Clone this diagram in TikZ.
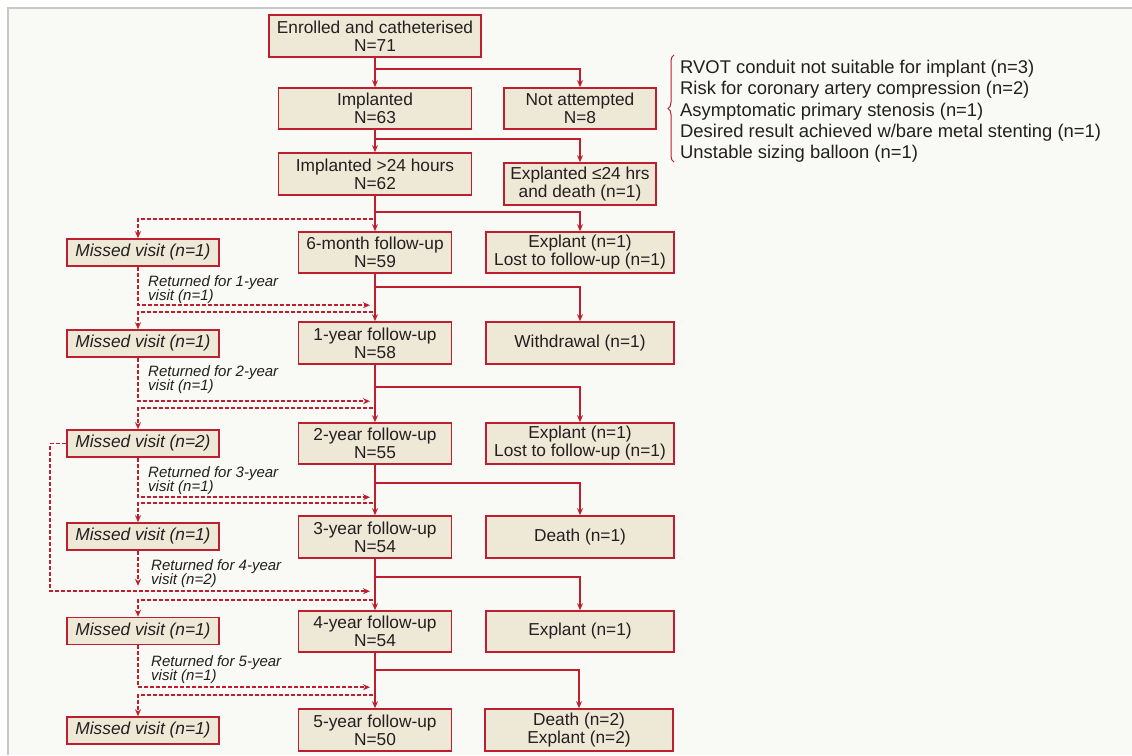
\documentclass[tikz,border=0pt]{standalone}
\usepackage{fontspec}
\setmainfont{Liberation Sans}
\usetikzlibrary{arrows.meta,decorations.pathreplacing,calc}
\definecolor{cred}{RGB}{190,30,45}
\definecolor{cbeige}{RGB}{237,233,214}
\definecolor{cbg}{RGB}{249,249,245}
\definecolor{cframe}{RGB}{200,200,200}
\definecolor{ctext}{RGB}{35,31,32}
\begin{document}
\begin{tikzpicture}[x=1pt,y=-1pt,
 box/.style={draw=cred, fill=cbeige, line width=1.6pt, inner sep=0pt, align=center, text=ctext, font=\fontsize{17.3}{18}\selectfont},
 mainbox/.style={box, minimum width=153pt, minimum height=41pt},
 widebox/.style={box, minimum width=193pt, minimum height=41pt},
 sidebox/.style={box, minimum width=188pt, minimum height=41pt},
 topside/.style={box, minimum width=152pt, minimum height=41pt},
 missbox/.style={box, minimum width=152pt, minimum height=27pt, font=\fontsize{17.3}{18}\selectfont\itshape},
 conn/.style={draw=cred, line width=1.7pt, -{Stealth[length=7pt,width=6pt]}},
 dconn/.style={draw=cred, line width=1.5pt, dash pattern=on 4pt off 2pt, -{Stealth[length=7pt,width=6pt]}},
 retlabel/.style={anchor=west, align=left, inner sep=0pt, text=ctext, font=\fontsize{15}{14}\selectfont\itshape},
 note/.style={anchor=north west, align=left, inner sep=0pt, text=ctext, font=\fontsize{18.4}{21.25}\selectfont},
]
\useasboundingbox (0,0) rectangle (1132,755);
\fill[white] (0,0) rectangle (1132,755);
\fill[cbg] (8,8) rectangle (1132,755);
\draw[cframe, line width=1.5pt] (8,755) -- (8,8) -- (1132,8);

% main column
\node[widebox, minimum width=212pt, minimum height=42pt] (enr) at (375,36) {Enrolled and catheterised\\N=71};
\node[widebox] (imp) at (375,108.5) {Implanted\\N=63};
\node[widebox, minimum height=42pt] (i24) at (375,174) {Implanted >24 hours\\N=62};
\node[mainbox] (m6) at (375,252.5) {6-month follow-up\\N=59};
\node[mainbox, minimum height=42pt] (y1) at (375,343) {1-year follow-up\\N=58};
\node[mainbox] (y2) at (375,443.5) {2-year follow-up\\N=55};
\node[mainbox, minimum height=42pt] (y3) at (375,537) {3-year follow-up\\N=54};
\node[mainbox] (y4) at (375,631.5) {4-year follow-up\\N=54};
\node[mainbox, minimum height=42pt] (y5) at (375,730) {5-year follow-up\\N=50};

% right column
\node[topside] (nat) at (580,108.5) {Not attempted\\N=8};
\node[topside, minimum height=42pt] (exd) at (580,184) {Explanted ≤24 hrs\\and death (n=1)};
\node[sidebox] (ex1) at (580,252.5) {Explant (n=1)\\Lost to follow-up (n=1)};
\node[sidebox, minimum height=42pt] (wd) at (580,343) {Withdrawal (n=1)};
\node[sidebox] (ex2) at (580,443.5) {Explant (n=1)\\Lost to follow-up (n=1)};
\node[sidebox, minimum height=42pt] (de3) at (580,537) {Death (n=1)};
\node[sidebox] (ex4) at (580,631.5) {Explant (n=1)};
\node[sidebox, minimum height=42pt] (de5) at (579,730) {Death (n=2)\\Explant (n=2)};

% missed visits
\node[missbox] (ms1) at (143,252.5) {Missed visit (n=1)};
\node[missbox] (ms2) at (143,343.5) {Missed visit (n=1)};
\node[missbox] (ms3) at (143,443.5) {Missed visit (n=2)};
\node[missbox] (ms4) at (143,536.5) {Missed visit (n=1)};
\node[missbox] (ms5) at (143,631) {Missed visit (n=1)};
\node[missbox] (ms6) at (143,730.5) {Missed visit (n=1)};

% note and brace
\draw[cred, line width=1pt, decorate, decoration={brace, amplitude=6pt}] (674,162) -- (674,55);
\node[note] (reasons) at (680,60) {RVOT conduit not suitable for implant (n=3)\\Risk for coronary artery compression (n=2)\\Asymptomatic primary stenosis (n=1)\\Desired result achieved w/bare metal stenting (n=1)\\Unstable sizing balloon (n=1)};

% main connectors
\draw[conn] (enr.south) -- (imp.north);
\draw[conn] (imp.south) -- (i24.north);
\draw[conn] (i24.south) -- (m6.north);
\draw[conn] (m6.south) -- (y1.north);
\draw[conn] (y1.south) -- (y2.north);
\draw[conn] (y2.south) -- (y3.north);
\draw[conn] (y3.south) -- (y4.north);
\draw[conn] (y4.south) -- (y5.north);

% branches
\draw[conn] (enr.south) ++(0,11) -| (nat.north);
\draw[conn] (imp.south) ++(0,9) -| (exd.north);
\draw[conn] (i24.south) ++(0,16) -| (ex1.north);
\draw[conn] (m6.south) ++(0,13) -| (wd.north);
\draw[conn] (y1.south) ++(0,22) -| (ex2.north);
\draw[conn] (y2.south) ++(0,18) -| (de3.north);
\draw[conn] (y3.south) ++(0,18) -| (ex4.north);
\draw[conn] (y4.south) ++(0,17) -| (de5.north);

% dashed to missed visits
\draw[dconn] (m6.north) ++(-2,-12) -| ([xshift=-5pt]ms1.north);
\draw[dconn] (y1.north) ++(-2,-9) -| ([xshift=-5pt]ms2.north);
\draw[dconn] (y2.north) ++(-2,-14) -| ([xshift=-5pt]ms3.north);
\draw[dconn] (y3.north) ++(-2,-12) -| ([xshift=-5pt]ms4.north);
\draw[dconn] (y4.north) ++(-2,-10) -| ([xshift=-5pt]ms5.north);
\draw[dconn] (y5.north) ++(-2,-13) -| ([xshift=-5pt]ms6.north);

% dashed returns
\draw[dconn] ([xshift=-5pt]ms1.south) |- ([shift={(-5,-16)}]y1.north);
\draw[dconn] ([xshift=-5pt]ms2.south) |- ([shift={(-5,-21)}]y2.north);
\draw[dconn] ([xshift=-5pt]ms3.south) |- ([shift={(-5,-18)}]y3.north);
\draw[dconn] (ms3.west) -- ++(-16,0) |- ([shift={(-5,-19)}]y4.north);
\draw[dconn] ([xshift=-5pt]ms4.south) -- ++(0,35);
\draw[dconn] ([xshift=-5pt]ms5.south) |- ([shift={(-5,-21)}]y5.north);

% return labels
\node[retlabel] (r1) at (148,290) {Returned for 1-year\\visit (n=1)};
\node[retlabel] (r2) at (148,380) {Returned for 2-year\\visit (n=1)};
\node[retlabel] (r3) at (148,481) {Returned for 3-year\\visit (n=1)};
\node[retlabel] (r4) at (151,573.5) {Returned for 4-year\\visit (n=2)};
\node[retlabel] (r5) at (151,670) {Returned for 5-year\\visit (n=1)};
\end{tikzpicture}
\end{document}
